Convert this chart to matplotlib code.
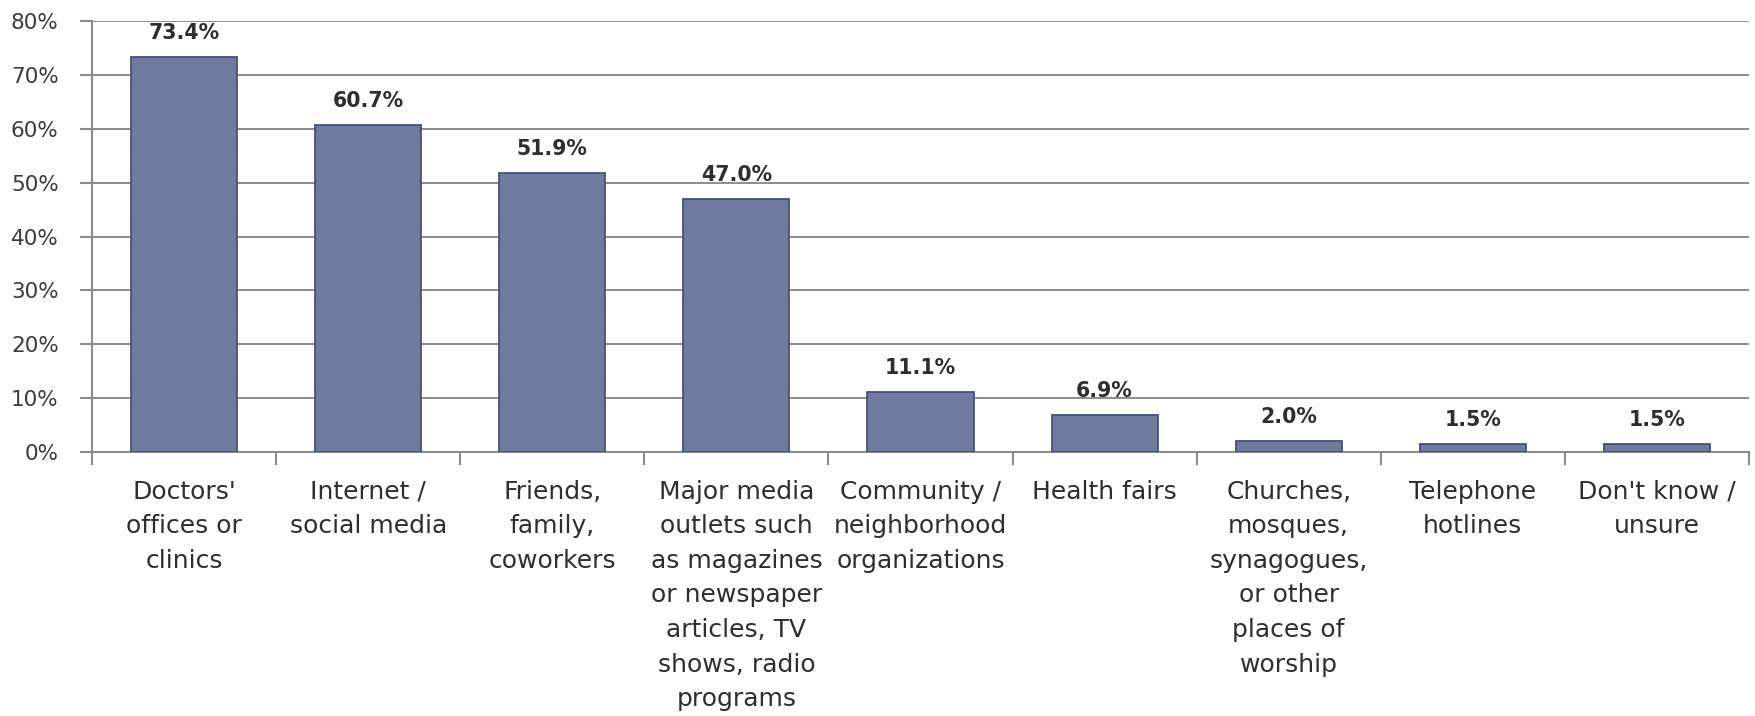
import matplotlib
matplotlib.use("Agg")
import matplotlib.pyplot as plt
import numpy as np

categories = [
    "Doctors'\noffices or\nclinics",
    "Internet /\nsocial media",
    "Friends,\nfamily,\ncoworkers",
    "Major media\noutlets such\nas magazines\nor newspaper\narticles, TV\nshows, radio\nprograms",
    "Community /\nneighborhood\norganizations",
    "Health fairs",
    "Churches,\nmosques,\nsynagogues,\nor other\nplaces of\nworship",
    "Telephone\nhotlines",
    "Don't know /\nunsure",
]
values = [73.4, 60.7, 51.9, 47.0, 11.1, 6.9, 2.0, 1.5, 1.5]
y_ticks = [0, 10, 20, 30, 40, 50, 60, 70, 80]

plt.rcParams["font.family"] = ["DejaVu Sans"]

fig = plt.figure(figsize=(17.56, 7.16), dpi=100)
ax = fig.add_axes([0.0524, 0.369, 0.9436, 0.601])

x = np.arange(len(categories))
bar_color = "#6F7AA0"
edge_color = "#46507A"
grid_color = "#8C8C8C"
text_color = "#2E2E2E"

ax.bar(x, values, width=0.576, color=bar_color, edgecolor=edge_color,
       linewidth=1.3, zorder=3)

for xi, v in zip(x, values):
    ax.annotate(f"{v:.1f}%", (xi, v), xytext=(0, 13), textcoords="offset points",
                ha="center", va="baseline", fontsize=14.8, fontweight="bold",
                color=text_color, zorder=4)

ax.set_xlim(-0.5, len(categories) - 0.5)
ax.set_ylim(0, 80)
ax.set_yticks(y_ticks)
ax.set_yticklabels([f"{t}%" for t in y_ticks], fontsize=15.5, color="#3A3A3A")

ax.set_xticks(x)
ax.set_xticklabels(categories, fontsize=18, color=text_color,
                   linespacing=1.56, va="top")
ax.set_xticks(np.arange(len(categories) + 1) - 0.5, minor=True)
ax.tick_params(axis="x", which="major", length=0, pad=20)
ax.tick_params(axis="x", which="minor", length=9, width=1.5, color=grid_color,
               direction="out")
ax.tick_params(axis="y", length=9, width=1.5, color=grid_color, pad=15,
               direction="out")

ax.grid(axis="y", color=grid_color, linewidth=1.4, zorder=0)
ax.set_axisbelow(True)
for side in ("top", "right"):
    ax.spines[side].set_visible(False)
for side in ("left", "bottom"):
    ax.spines[side].set_color(grid_color)
    ax.spines[side].set_linewidth(1.5)

fig.savefig("out.png", dpi=100, facecolor="white")
